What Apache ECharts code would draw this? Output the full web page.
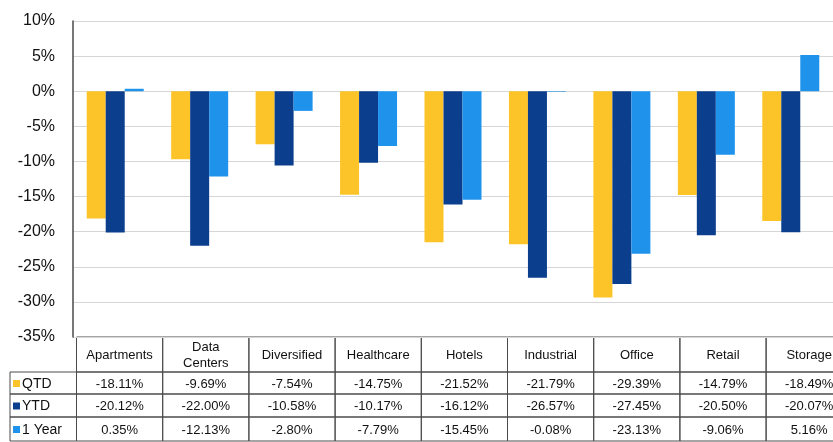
<!DOCTYPE html>
<html>
<head>
<meta charset="utf-8">
<style>
  html, body { margin: 0; padding: 0; background: #ffffff; }
  #chart { width: 833px; height: 442px; }
</style>
<script src="https://cdn.jsdelivr.net/npm/echarts@6/dist/echarts.min.js"></script>
</head>
<body>
<div id="chart"></div>
<script>
// Property sectors (columns of the data table)
const categories = ['Apartments', 'Data\nCenters', 'Diversified', 'Healthcare', 'Hotels', 'Industrial', 'Office', 'Retail', 'Storage'];

// Total returns in percent
const qtd     = [-18.11,  -9.69,  -7.54, -14.75, -21.52, -21.79, -29.39, -14.79, -18.49];
const ytd     = [-20.12, -22.00, -10.58, -10.17, -16.12, -26.57, -27.45, -20.50, -20.07];
const oneYear = [  0.35, -12.13,  -2.80,  -7.79, -15.45,  -0.08, -23.13,  -9.06,   5.16];

const seriesNames = ['QTD', 'YTD', '1 Year'];
const seriesData = [qtd, ytd, oneYear];
const seriesColors = ['#FDC42A', '#0C3E8E', '#1F93EC'];

// Value axis range and step
const yMin = -35, yMax = 10, yStep = 5;

// Layout
const GRID_LEFT = 73, GRID_TOP = 21, GRID_HEIGHT = 316, BAND = 86.2;
const GRID_WIDTH = BAND * categories.length;
const TABLE_LEFT = GRID_LEFT + 3.5;
const LEGEND_LEFT = 10;
const rowEdges = [GRID_TOP + GRID_HEIGHT, 372, 394, 417, 441];

const chart = echarts.init(document.getElementById('chart'), null, { renderer: 'canvas' });

const fmt = v => v.toFixed(2) + '%';
const FONT = '"Liberation Sans", Arial, sans-serif';
const LINE = '#4a4a4a';

// Data table drawn under the plot
const graphics = [];
const tableRight = TABLE_LEFT + BAND * categories.length;
for (let r = 0; r < rowEdges.length - 1; r++) {
  const y0 = rowEdges[r], y1 = rowEdges[r + 1];
  const h = y1 - y0;
  for (let c = 0; c < categories.length; c++) {
    const x0 = TABLE_LEFT + c * BAND;
    graphics.push({
      type: 'rect', shape: { x: x0, y: y0, width: BAND, height: h },
      style: { fill: 'none', stroke: LINE, lineWidth: 1 }, silent: true
    });
    const txt = r === 0 ? categories[c] : fmt(seriesData[r - 1][c]);
    graphics.push({
      type: 'text', x: x0 + BAND / 2, y: y0 + h / 2 + 1,
      style: { text: txt, fill: '#111', font: '13px ' + FONT, align: 'center', verticalAlign: 'middle', lineHeight: 16 },
      silent: true
    });
  }
  if (r > 0) {
    graphics.push({
      type: 'rect', shape: { x: LEGEND_LEFT, y: y0, width: TABLE_LEFT - LEGEND_LEFT, height: h },
      style: { fill: 'none', stroke: LINE, lineWidth: 1 }, silent: true
    });
    graphics.push({
      type: 'rect', shape: { x: LEGEND_LEFT + 3, y: y0 + h / 2 - 3, width: 7, height: 7 },
      style: { fill: seriesColors[r - 1] }, silent: true
    });
    graphics.push({
      type: 'text', x: LEGEND_LEFT + 12, y: y0 + h / 2 + 1,
      style: { text: seriesNames[r - 1], fill: '#111', font: '14px ' + FONT, align: 'left', verticalAlign: 'middle' },
      silent: true
    });
  }
}

chart.setOption({
  animation: false,
  backgroundColor: '#ffffff',
  grid: { left: GRID_LEFT, top: GRID_TOP, width: GRID_WIDTH, height: GRID_HEIGHT, containLabel: false },
  xAxis: {
    type: 'category',
    data: categories,
    axisLine: { show: false },
    axisTick: { show: false },
    axisLabel: { show: false },
    splitLine: { show: false }
  },
  yAxis: {
    type: 'value',
    min: yMin, max: yMax, interval: yStep,
    axisLine: { show: true, lineStyle: { color: '#4a4a4a', width: 1.5 } },
    axisTick: { show: false },
    axisLabel: {
      formatter: v => v + '%',
      color: '#111', fontSize: 16, fontFamily: FONT, margin: 18
    },
    splitLine: { show: true, lineStyle: { color: '#d6d6d6', width: 1 } }
  },
  series: seriesNames.map((name, i) => ({
    name,
    type: 'bar',
    data: seriesData[i],
    barWidth: 19,
    barGap: '0%',
    itemStyle: { color: seriesColors[i] }
  })),
  graphic: graphics
});
</script>
</body>
</html>
